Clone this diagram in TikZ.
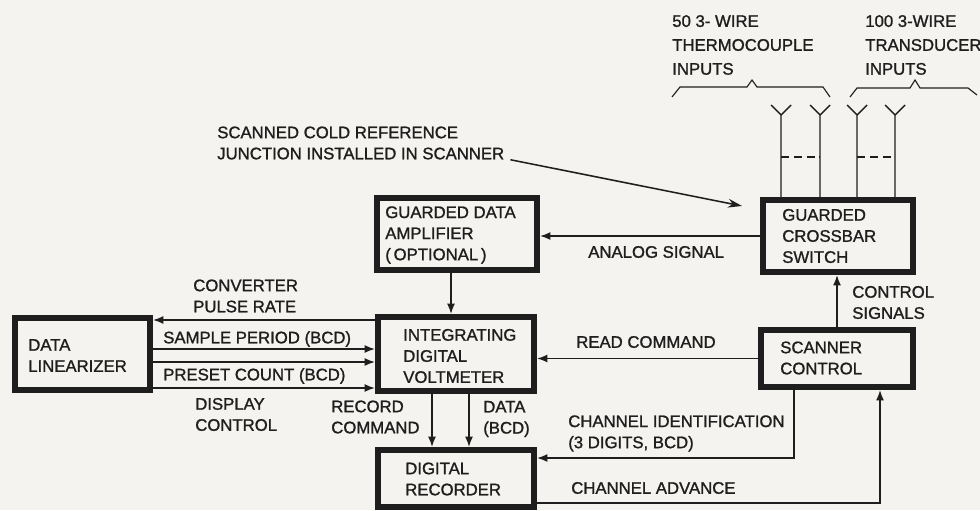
\documentclass[tikz,border=0pt]{standalone}
\usepackage{fontspec}
\setmainfont{Liberation Sans}
\newfontfamily\lettering{Liberation Sans}[FakeBold=1.2]
\usepackage{tikz}
\usetikzlibrary{calc,positioning,arrows.meta}
\definecolor{ink}{RGB}{30,30,30}
\definecolor{paper}{RGB}{244,243,239}

\begin{document}
\begin{tikzpicture}[x=0.25mm,y=-0.25mm,
		>={Latex[length=2.6mm,width=2mm]},
		blk/.style={draw=ink,line width=4.3pt},
		lbl/.style={inner sep=0pt,align=left,text=ink,font=\lettering\fontsize{11.9}{15}\selectfont},
		sig/.style={draw=ink,line width=1.1pt},
		wire/.style={draw=ink,line width=1pt}]
			% Paper
			\fill[paper] (0,0) rectangle (980,510);
			\useasboundingbox (0,0) rectangle (980,510);
			\clip (0,0) rectangle (980,510);
			
			% Blocks
			\node[blk,minimum width=33.75mm,minimum height=18mm] (DL) at (82.5,354) {};
			\node[blk,minimum width=40mm,minimum height=18mm] (GDA) at (457,234) {};
			\node[blk,minimum width=39mm,minimum height=18.5mm] (IDV) at (456,354) {};
			\node[blk,minimum width=39mm,minimum height=14.25mm] (DR) at (456,478.5) {};
			\node[blk,minimum width=37.5mm,minimum height=18mm] (GCS) at (838,236) {};
			\node[blk,minimum width=38mm,minimum height=14.25mm] (SC) at (837,358.5) {};
			
			% Block texts
			\node[lbl,anchor=west] (DLt) at (28,355.5) {DATA\\LINEARIZER};
			\node[lbl,anchor=west] (GDAt) at (385,235) {GUARDED DATA\\AMPLIFIER\\(\,OPTIONAL\,)};
			\node[lbl,anchor=west] (IDVt) at (403,356) {INTEGRATING\\DIGITAL\\VOLTMETER};
			\node[lbl,anchor=west] (DRt) at (405,479) {DIGITAL\\RECORDER};
			\node[lbl,anchor=west] (GCSt) at (782,236) {GUARDED\\CROSSBAR\\SWITCH};
			\node[lbl,anchor=west] (SCt) at (780,358) {SCANNER\\CONTROL};
			
			% Inputs
			\node[lbl,anchor=west] (TCin) at (672,45) {50 3- WIRE\\[2pt]THERMOCOUPLE\\[2pt]INPUTS};
			\node[lbl,anchor=west] (TDin) at (865,45) {100 3-WIRE\\[2pt]TRANSDUCER\\[2pt]INPUTS};
			\draw[wire,line width=0.8pt] (672,97) -- (680,87) -- (747,87) -- (752,80) -- (757,87) -- (823,87) -- (830,97);
			\draw[wire,line width=0.8pt] (850,97) -- (857,88) -- (910,88) -- (915,80) -- (920,88) -- (968,88) -- (977,95);
			\foreach \x in {781,820,857,895}
				\draw[wire] (GCS.north -| \x,0) -- (\x,115) -- ++(-10,-10) (\x,115) -- ++(10,-10);
			\draw[wire,dash pattern=on 2mm off 1.2mm] (781,157) -- (820,157);
			\draw[wire,dash pattern=on 2mm off 1.2mm] (857,157) -- (895,157);
			
			% Cold reference note
			\node[lbl,anchor=west] (CJ) at (217,143) {SCANNED COLD REFERENCE\\JUNCTION INSTALLED IN SCANNER};
			\draw[sig,-{Stealth[length=3.5mm,width=2.2mm]}] ([xshift=1.5mm]CJ.south east) -- ($(GCS.north west)+(-18,9)$);
			
			% Analog path
			\draw[sig,->] (GCS.west) -- (GCS.west -| GDA.east);
			\node[lbl,anchor=west] (ansig) at (588,252) {ANALOG SIGNAL};
			\draw[sig,->] ([xshift=-1.5mm]GDA.south) -- ([xshift=-1.5mm]GDA.south |- IDV.north);
			
			% Linearizer lines
			\draw[sig,->] (IDV.west |- 0,320) -- (DL.east |- 0,320);
			\foreach \y in {349,362,388}
				\draw[sig,->] (DL.east |- 0,\y) -- (IDV.west |- 0,\y);
			\node[lbl,anchor=west] (cpr) at (193,296) {CONVERTER\\PULSE RATE};
			\node[lbl,anchor=west] (spd) at (163,339) {SAMPLE PERIOD (BCD)};
			\node[lbl,anchor=west] (pct) at (163,376) {PRESET COUNT (BCD)};
			\node[lbl,anchor=west] (dsp) at (195,414.5) {DISPLAY\\CONTROL};
			
			% Scanner control lines
			\draw[sig,->] (SC.west) -- (SC.west -| IDV.east);
			\node[lbl,anchor=west] (rdc) at (576,342) {READ COMMAND};
			\draw[sig,->] (SC.north -| 837,0) -- (GCS.south -| 837,0);
			\node[lbl,anchor=west] (ctl) at (852,302.5) {CONTROL\\SIGNALS};
			\draw[sig,->] (SC.south -| 794,0) |- (DR.east |- 0,458);
			\node[lbl,anchor=west] (chid) at (568,433.5) {CHANNEL IDENTIFICATION\\(3 DIGITS, BCD)};
			\draw[sig,->] (DR.east |- 0,503) -| (SC.south -| 880,0);
			\node[lbl,anchor=west] (chad) at (571,488) {CHANNEL ADVANCE};
			
			% Recorder inputs
			\foreach \x in {432,469}
				\draw[sig,->] (IDV.south -| \x,0) -- (DR.north -| \x,0);
			\node[lbl,anchor=west] (rec) at (331,417) {RECORD\\COMMAND};
			\node[lbl,anchor=west] (dat) at (483,419) {DATA\\(BCD)};
		\end{tikzpicture}
\end{document}
